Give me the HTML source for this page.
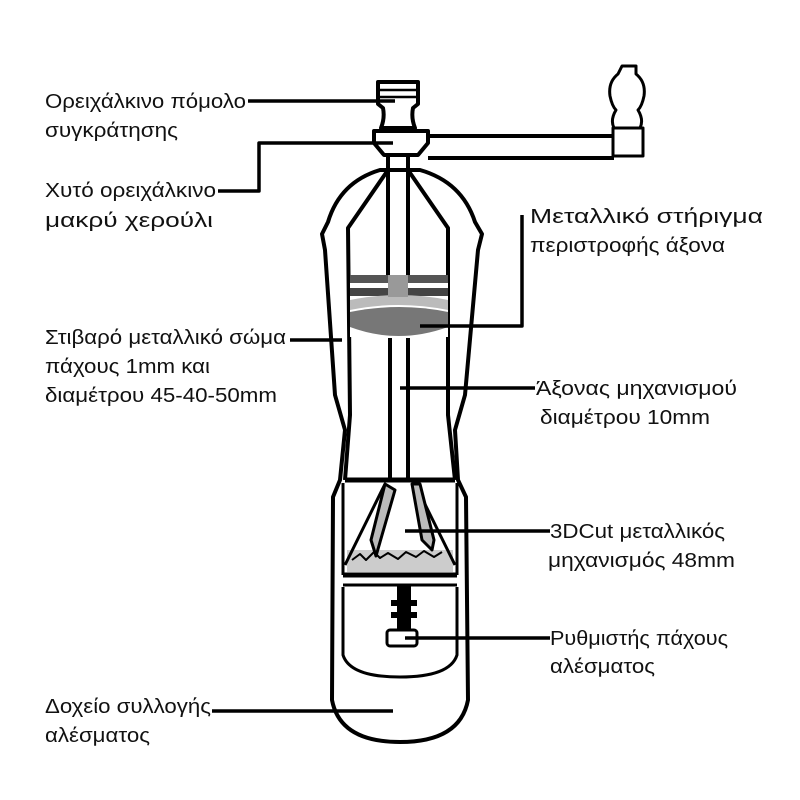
<!DOCTYPE html>
<html><head><meta charset="utf-8"><style>
html,body{margin:0;padding:0;background:#fff}
svg{display:block}
text{font-family:"Liberation Sans","DejaVu Sans",sans-serif;font-size:20px;fill:#111}
</style></head><body>
<svg width="800" height="800" viewBox="0 0 800 800" xmlns="http://www.w3.org/2000/svg">
<g fill="none" stroke="#000" stroke-width="4" stroke-linejoin="round">
<path d="M622 66 h14 v8 q10 8 8 22 q-2 10 -6 14 q6 10 2 18 h-26 q-4 -8 2 -18 q-4 -4 -6 -14 q-2 -14 8 -22z" stroke-width="3"/>
<path d="M613 128 h30 v28 h-30z" stroke-width="3"/>
<path d="M428 136 h186 M428 158 h186" stroke-width="4"/>
<path d="M378 82 h40 v22 l-5 4 q-2 10 2 20 h-34 q4 -10 2 -20 l-5 -4z" stroke-width="4"/>
<path d="M380 90 h36 M380 97 h36" stroke-width="2.5"/>
<path d="M374 131 h54 v12 l-10 12 h-34 l-10 -12z" stroke-width="4"/>
<path d="M388 155 V275 M408 155 V275" stroke-width="4"/>
<path d="M380 170 Q340 182 328 222 L322 234 L325 250 L335 395 L345 430 L340 480 L333 497 L332 700 Q340 742 400 742 Q460 742 468 700 L466 497 L458 480 L455 430 L465 395 L478 250 L482 234 L475 222 Q462 182 420 170 Z" stroke-width="4"/>
<path d="M388 170 L348 228 L350 415 L345 480 M408 170 L448 228 L448 415 L455 480" stroke-width="4"/>
<rect x="350" y="275" width="98" height="62" fill="#fff" stroke="none"/>
<path d="M350 275 h98 v8 h-98z" fill="#555" stroke="none"/>
<path d="M350 288 h98 v8 h-98z" fill="#444" stroke="none"/>
<path d="M350 300 q50 -10 98 0 v10 q-50 -10 -98 0z" fill="#bbb" stroke="none"/>
<path d="M350 312 q50 -10 98 0 v15 q-50 18 -98 0z" fill="#777" stroke="none"/>
<path d="M388 275 h20 v22 h-20z" fill="#999" stroke="none"/>
<path d="M390 338 V480 M408 338 V480" stroke-width="4"/>
<path d="M345 480 H455 M343 575 H457" stroke-width="5"/>
<path d="M343 483 V575 M457 483 V575" stroke-width="3"/>
<rect x="347" y="550" width="106" height="22" fill="#ccc" stroke="none"/>
<path d="M352 560 l8 -6 l6 6 l8 -8 l6 6 l8 -5 l10 6 l8 -7 l10 5 l8 -6 l10 6 l8 -5" stroke-width="2"/>
<path d="M345 565 L385 484 M455 565 L415 484" stroke-width="3"/>
<path d="M385 484 L371 540 L376 556 L395 490z" fill="#bbb" stroke-width="3"/>
<path d="M412 484 L422 540 L432 550 L434 540 L420 484z" fill="#bbb" stroke-width="3"/>
<path d="M343 585 H457" stroke-width="3"/>
<path d="M343 587 V655 Q350 677 400 677 Q450 677 457 655 V587" stroke-width="3"/>
<rect x="397" y="585" width="14" height="45" fill="#000" stroke="none"/>
<rect x="391" y="600" width="26" height="6" fill="#000" stroke="none"/>
<rect x="391" y="612" width="26" height="6" fill="#000" stroke="none"/>
<rect x="387" y="630" width="30" height="16" rx="3" stroke-width="3"/>
<g stroke-width="3.5">
<path d="M248 101 H395"/>
<path d="M218 191 H259 V143 H393"/>
<path d="M522 215 V326 H420"/>
<path d="M290 340 H342"/>
<path d="M400 388 H535"/>
<path d="M405 531 H550"/>
<path d="M405 638 H550"/>
<path d="M212 711 H393"/>
</g>
</g>
<g lengthAdjust="spacingAndGlyphs">
<text x="45" y="108" textLength="201" lengthAdjust="spacingAndGlyphs">Ορειχάλκινο πόμολο</text>
<text x="45" y="137" textLength="133" lengthAdjust="spacingAndGlyphs">συγκράτησης</text>
<text x="45" y="197" textLength="171" lengthAdjust="spacingAndGlyphs">Χυτό ορειχάλκινο</text>
<text x="45" y="227" textLength="168" lengthAdjust="spacingAndGlyphs">μακρύ χερούλι</text>
<text x="530" y="223" textLength="233" lengthAdjust="spacingAndGlyphs">Μεταλλικό στήριγμα</text>
<text x="530" y="252" textLength="195" lengthAdjust="spacingAndGlyphs">περιστροφής άξονα</text>
<text x="45" y="344" textLength="241" lengthAdjust="spacingAndGlyphs">Στιβαρό μεταλλικό σώμα</text>
<text x="45" y="373" textLength="165" lengthAdjust="spacingAndGlyphs">πάχους 1mm και</text>
<text x="45" y="402" textLength="232" lengthAdjust="spacingAndGlyphs">διαμέτρου 45-40-50mm</text>
<text x="536" y="395" textLength="201" lengthAdjust="spacingAndGlyphs">Άξονας μηχανισμού</text>
<text x="540" y="424" textLength="170" lengthAdjust="spacingAndGlyphs">διαμέτρου 10mm</text>
<text x="550" y="538" textLength="175" lengthAdjust="spacingAndGlyphs">3DCut μεταλλικός</text>
<text x="548" y="567" textLength="187" lengthAdjust="spacingAndGlyphs">μηχανισμός 48mm</text>
<text x="550" y="645" textLength="178" lengthAdjust="spacingAndGlyphs">Ρυθμιστής πάχους</text>
<text x="550" y="673" textLength="105" lengthAdjust="spacingAndGlyphs">αλέσματος</text>
<text x="45" y="713" textLength="166" lengthAdjust="spacingAndGlyphs">Δοχείο συλλογής</text>
<text x="45" y="742" textLength="105" lengthAdjust="spacingAndGlyphs">αλέσματος</text>
</g>
</svg>
</body></html>
